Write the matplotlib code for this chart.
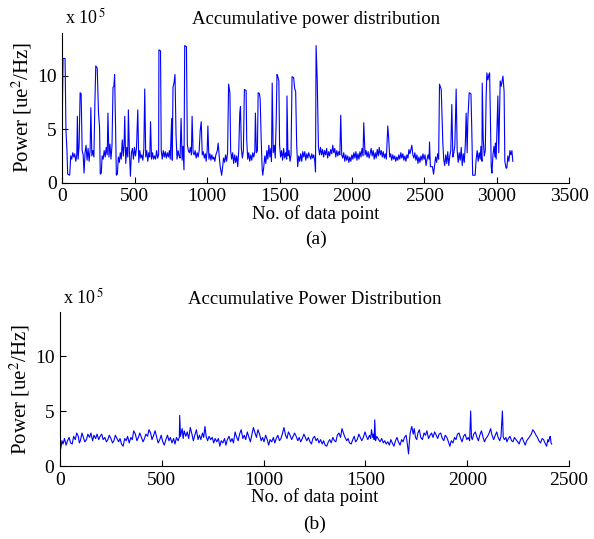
import numpy as np
import matplotlib
matplotlib.use('Agg')
import matplotlib.pyplot as plt

plt.rcParams['font.family'] = ['Liberation Serif', 'DejaVu Serif']
plt.rcParams['mathtext.fontset'] = 'stix'

# (a) raw accumulative power, values in units of 1e5 ue^2/Hz
idx_a = [0, 5, 19, 25, 32, 37, 51, 58, 65, 72, 79, 86, 93, 100, 104, 109, 116, 123, 130, 137,
         144, 150, 157, 164, 171, 178, 185, 192, 197, 204, 211, 218, 225, 231, 241, 250, 257, 262, 269, 275,
         282, 289, 296, 303, 310, 315, 322, 329, 336, 343, 350, 356, 361, 368, 373, 380, 387, 394, 400, 407,
         414, 421, 426, 431, 438, 445, 452, 456, 463, 470, 477, 484, 491, 498, 505, 512, 521, 528, 535, 542,
         549, 556, 563, 569, 576, 583, 590, 597, 604, 609, 616, 623, 630, 637, 644, 651, 658, 665, 667, 678,
         683, 690, 697, 704, 711, 718, 725, 732, 739, 745, 755, 759, 764, 771, 778, 785, 792, 799, 806, 813,
         820, 827, 833, 840, 845, 857, 863, 870, 877, 884, 891, 896, 903, 910, 917, 924, 931, 938, 945, 952,
         959, 966, 973, 980, 987, 993, 1000, 1005, 1012, 1019, 1026, 1032, 1040, 1046, 1053, 1060, 1070, 1076, 1083, 1090,
         1100, 1107, 1113, 1120, 1127, 1134, 1141, 1148, 1157, 1162, 1169, 1176, 1183, 1190, 1197, 1204, 1211, 1218, 1225, 1230,
         1236, 1243, 1250, 1257, 1269, 1273, 1280, 1287, 1294, 1301, 1308, 1315, 1322, 1329, 1333, 1340, 1347, 1352, 1361, 1366,
         1373, 1380, 1384, 1391, 1398, 1405, 1412, 1419, 1426, 1433, 1440, 1444, 1449, 1456, 1463, 1470, 1477, 1482, 1488, 1495,
         1500, 1507, 1514, 1521, 1528, 1535, 1542, 1549, 1551, 1558, 1565, 1572, 1579, 1586, 1597, 1604, 1611, 1618, 1625, 1632,
         1639, 1646, 1653, 1660, 1667, 1674, 1681, 1688, 1695, 1701, 1708, 1715, 1722, 1729, 1736, 1743, 1748, 1752, 1760, 1768,
         1776, 1783, 1790, 1797, 1804, 1811, 1818, 1825, 1832, 1839, 1846, 1853, 1860, 1867, 1874, 1881, 1888, 1895, 1902, 1909,
         1916, 1922, 1929, 1936, 1943, 1950, 1957, 1964, 1971, 1978, 1985, 1992, 1999, 2006, 2013, 2020, 2027, 2034, 2041, 2048,
         2055, 2062, 2069, 2076, 2081, 2090, 2097, 2104, 2111, 2118, 2125, 2132, 2139, 2146, 2153, 2160, 2167, 2174, 2181, 2188,
         2195, 2202, 2209, 2216, 2223, 2230, 2237, 2247, 2253, 2260, 2267, 2274, 2281, 2288, 2295, 2302, 2309, 2316, 2323, 2330,
         2337, 2344, 2351, 2358, 2365, 2372, 2379, 2386, 2393, 2400, 2413, 2420, 2427, 2434, 2441, 2448, 2455, 2462, 2469, 2476,
         2483, 2490, 2497, 2504, 2511, 2518, 2525, 2532, 2535, 2541, 2555, 2563, 2570, 2577, 2584, 2591, 2598, 2604, 2616, 2627,
         2633, 2640, 2647, 2654, 2661, 2668, 2675, 2682, 2689, 2696, 2703, 2710, 2719, 2726, 2733, 2740, 2747, 2754, 2761, 2768,
         2775, 2782, 2788, 2795, 2800, 2809, 2821, 2826, 2833, 2850, 2857, 2864, 2871, 2878, 2885, 2890, 2897, 2899, 2906, 2913,
         2920, 2926, 2931, 2938, 2945, 2950, 2955, 2961, 2966, 2973, 2980, 2987, 2990, 2995, 3007, 3013, 3018, 3023, 3030, 3042,
         3050, 3055, 3064, 3069, 3076, 3083, 3090, 3097, 3104, 3110]
pow_a = [6.0, 11.6, 11.6, 5.0, 3.0, 0.8, 0.7, 2.5, 2.2, 2.8, 2.4, 2.7, 2.0, 2.6, 6.2, 2.2, 3.5, 8.4, 8.3, 3.0,
         2.6, 0.9, 2.8, 3.5, 2.1, 3.2, 2.0, 3.0, 7.0, 2.5, 3.0, 2.4, 7.5, 10.9, 10.7, 6.5, 5.2, 0.8, 0.9, 2.5,
         2.2, 3.0, 2.4, 3.3, 2.6, 6.5, 2.4, 3.6, 2.2, 3.5, 8.9, 9.0, 10.1, 5.0, 0.7, 0.8, 2.4, 1.9, 2.8, 2.2,
         4.0, 2.5, 3.4, 6.2, 1.8, 3.3, 2.4, 6.8, 3.0, 0.6, 2.8, 3.2, 2.2, 3.3, 2.5, 3.2, 6.8, 1.9, 3.0, 2.3,
         2.6, 2.1, 3.2, 8.75, 2.4, 3.0, 2.0, 2.8, 2.4, 5.7, 2.2, 2.8, 2.2, 2.5, 2.2, 3.0, 2.3, 2.6, 12.4, 12.3,
         3.0, 2.2, 3.0, 2.4, 2.9, 2.3, 2.8, 2.4, 3.0, 2.2, 6.0, 2.1, 8.9, 9.3, 10.1, 4.5, 2.2, 3.0, 2.5, 2.3,
         6.0, 2.1, 3.4, 1.2, 12.8, 12.7, 3.6, 3.0, 2.8, 3.3, 2.6, 6.2, 2.8, 2.6, 3.0, 2.3, 2.8, 2.4, 3.0, 4.9,
         5.7, 2.6, 2.9, 2.3, 2.7, 2.0, 3.0, 5.3, 2.2, 2.7, 2.1, 2.6, 2.2, 2.4, 2.0, 2.6, 3.0, 3.7, 2.5, 1.5,
         0.7, 1.5, 2.3, 1.9, 2.6, 2.0, 2.8, 9.2, 8.4, 3.0, 2.2, 2.8, 1.8, 2.6, 1.9, 2.5, 1.5, 3.0, 6.5, 7.1,
         3.2, 2.3, 3.0, 8.7, 8.6, 4.0, 2.2, 2.8, 2.0, 2.6, 2.1, 2.8, 2.4, 2.9, 6.5, 2.8, 3.0, 8.4, 8.3, 7.8,
         4.0, 1.2, 0.7, 1.5, 2.5, 1.8, 3.0, 2.2, 3.5, 2.4, 3.2, 2.0, 9.3, 2.8, 3.5, 2.3, 6.0, 10.1, 9.9, 9.5,
         3.5, 2.4, 3.0, 2.1, 3.2, 2.3, 2.8, 2.2, 8.1, 2.5, 3.0, 2.0, 2.6, 9.9, 9.8, 8.8, 8.5, 3.5, 1.5, 2.5,
         2.0, 2.7, 2.0, 2.9, 2.4, 2.9, 2.1, 2.7, 2.3, 2.8, 2.5, 2.2, 2.7, 2.3, 2.6, 2.0, 1.0, 12.8, 9.5, 3.4,
         2.6, 3.3, 2.6, 3.1, 2.4, 3.0, 2.6, 3.2, 2.3, 2.9, 2.5, 3.1, 2.7, 3.5, 2.8, 3.2, 2.4, 3.0, 2.5, 2.9,
         2.6, 6.3, 2.6, 2.3, 2.8, 2.0, 2.6, 2.1, 2.5, 1.9, 2.4, 2.0, 2.6, 2.2, 2.8, 2.3, 2.9, 2.1, 2.7, 2.2,
         2.9, 2.4, 3.2, 2.5, 5.6, 2.6, 3.0, 2.4, 2.9, 2.3, 2.7, 3.2, 2.5, 3.0, 2.2, 2.8, 2.3, 3.1, 2.5, 3.3,
         2.6, 3.0, 2.4, 2.9, 2.3, 2.7, 2.2, 5.3, 4.2, 2.4, 2.7, 2.1, 2.6, 2.2, 2.5, 2.0, 2.4, 2.1, 2.6, 2.2,
         2.8, 2.3, 2.7, 2.1, 2.5, 2.0, 2.6, 2.3, 3.1, 2.7, 3.5, 2.6, 2.3, 2.8, 2.1, 2.6, 1.8, 2.4, 1.9, 2.5,
         2.1, 2.7, 2.2, 2.6, 1.6, 2.2, 2.6, 2.2, 3.8, 1.5, 1.5, 0.8, 1.6, 2.4, 1.9, 2.7, 2.2, 9.2, 8.7, 3.7,
         2.2, 1.6, 2.6, 1.8, 2.9, 1.6, 2.5, 3.0, 7.3, 2.4, 2.8, 3.5, 8.75, 3.0, 1.9, 2.8, 2.1, 3.3, 1.6, 2.7,
         1.9, 3.5, 6.5, 2.8, 6.0, 8.4, 8.3, 5.5, 0.7, 0.7, 2.2, 3.0, 2.0, 2.8, 2.2, 3.4, 2.0, 9.3, 4.0, 2.5,
         3.0, 8.0, 10.25, 9.6, 10.1, 10.25, 6.0, 1.5, 0.9, 2.6, 3.4, 2.4, 3.7, 2.2, 8.1, 2.8, 6.0, 9.5, 9.0, 9.95,
         8.5, 2.0, 1.35, 1.4, 2.5, 2.0, 3.0, 2.6, 3.0, 2.0]

# (b) accumulative power after processing
idx_b = [0, 4, 10, 15, 22, 30, 37, 45, 52, 60, 67, 75, 82, 90, 95, 100, 108, 115, 122, 130,
         137, 145, 152, 160, 167, 175, 182, 190, 197, 205, 212, 220, 228, 235, 242, 250, 258, 265, 272, 280,
         288, 295, 302, 310, 318, 325, 332, 340, 348, 355, 362, 370, 378, 385, 392, 400, 408, 415, 422, 430,
         437, 445, 452, 460, 467, 475, 482, 490, 497, 505, 512, 520, 528, 535, 542, 550, 558, 565, 572, 580,
         586, 588, 592, 600, 605, 610, 618, 625, 632, 640, 648, 655, 662, 670, 678, 685, 692, 700, 706, 712,
         718, 725, 732, 740, 748, 755, 762, 770, 778, 785, 792, 800, 808, 815, 822, 830, 838, 845, 852, 860,
         868, 875, 882, 890, 898, 905, 912, 920, 928, 935, 942, 950, 958, 965, 972, 980, 988, 995, 1002, 1010,
         1018, 1025, 1032, 1040, 1048, 1055, 1062, 1070, 1078, 1085, 1092, 1100, 1108, 1115, 1122, 1130, 1138, 1145, 1152, 1160,
         1168, 1175, 1182, 1190, 1198, 1205, 1212, 1220, 1228, 1235, 1242, 1250, 1258, 1265, 1272, 1280, 1288, 1295, 1302, 1310,
         1318, 1325, 1332, 1340, 1348, 1355, 1362, 1370, 1378, 1385, 1392, 1400, 1408, 1415, 1422, 1430, 1438, 1445, 1452, 1460,
         1468, 1475, 1482, 1490, 1498, 1505, 1512, 1520, 1526, 1530, 1536, 1540, 1543, 1546, 1550, 1556, 1565, 1572, 1580, 1588,
         1595, 1602, 1610, 1618, 1625, 1632, 1640, 1648, 1655, 1662, 1670, 1678, 1685, 1692, 1700, 1706, 1712, 1716, 1720, 1728,
         1735, 1740, 1746, 1752, 1758, 1765, 1772, 1780, 1788, 1795, 1802, 1810, 1818, 1825, 1832, 1840, 1848, 1855, 1862, 1870,
         1878, 1885, 1892, 1900, 1908, 1915, 1922, 1930, 1938, 1945, 1952, 1960, 1968, 1975, 1982, 1990, 1998, 2005, 2012, 2017,
         2021, 2025, 2032, 2040, 2048, 2055, 2062, 2070, 2078, 2085, 2092, 2100, 2108, 2115, 2122, 2130, 2138, 2145, 2152, 2160,
         2166, 2173, 2177, 2183, 2190, 2195, 2202, 2210, 2218, 2225, 2232, 2240, 2248, 2255, 2262, 2270, 2278, 2285, 2292, 2300,
         2308, 2315, 2322, 2330, 2338, 2345, 2352, 2360, 2368, 2375, 2382, 2390, 2396, 2400, 2405, 2408, 2412, 2415]
pow_b = [3.7, 1.6, 2.3, 2.0, 2.5, 1.9, 2.3, 2.6, 2.1, 2.0, 2.7, 2.4, 3.0, 2.7, 2.1, 2.3, 3.0, 2.6, 2.2, 2.4,
         2.9, 2.6, 3.0, 2.3, 2.8, 2.5, 2.9, 2.4, 2.7, 2.9, 2.4, 2.6, 2.2, 2.4, 2.8, 2.5, 2.1, 2.3, 2.8, 2.5,
         2.2, 2.5, 2.0, 1.8, 2.5, 2.3, 2.7, 2.1, 2.6, 2.4, 3.2, 2.9, 2.3, 2.6, 3.0, 2.6, 2.2, 2.5, 2.9, 2.7,
         3.3, 3.0, 2.4, 2.8, 3.2, 2.6, 2.1, 2.4, 2.8, 2.2, 1.9, 2.4, 2.8, 2.3, 2.6, 2.1, 2.5, 2.0, 2.6, 2.3,
         2.6, 4.6, 2.7, 3.4, 2.5, 3.2, 2.7, 3.1, 2.5, 3.5, 2.9, 2.3, 2.8, 3.3, 2.4, 2.8, 2.4, 3.0, 2.6, 3.6,
         2.7, 2.3, 2.7, 2.4, 2.6, 2.1, 2.5, 2.2, 2.5, 1.8, 2.3, 2.1, 2.5, 1.9, 2.4, 2.7, 2.2, 2.5, 2.1, 3.1,
         2.6, 2.3, 2.9, 3.3, 2.5, 2.8, 2.4, 3.1, 2.6, 2.2, 2.8, 3.5, 3.0, 2.6, 3.3, 2.9, 2.3, 2.6, 2.2, 2.8,
         2.4, 1.9, 2.4, 2.2, 2.6, 2.1, 2.5, 2.8, 2.3, 2.5, 2.9, 3.5, 2.8, 2.5, 3.1, 2.8, 2.4, 2.7, 3.0, 2.7,
         2.3, 2.6, 2.2, 2.5, 2.9, 2.6, 2.3, 2.6, 2.2, 2.0, 2.5, 2.7, 2.3, 2.5, 2.1, 2.4, 2.0, 2.3, 1.9, 1.8,
         2.2, 2.4, 2.1, 2.6, 2.3, 2.2, 2.8, 3.0, 2.6, 3.4, 3.0, 2.6, 2.3, 2.5, 2.1, 2.0, 2.4, 2.7, 2.2, 2.4,
         2.9, 2.6, 2.3, 2.6, 3.1, 2.7, 2.4, 2.8, 2.5, 3.3, 2.6, 2.9, 2.4, 4.2, 2.3, 2.7, 2.4, 2.2, 2.5, 2.1,
         2.3, 2.0, 2.2, 1.9, 2.4, 2.1, 1.8, 2.3, 2.6, 2.2, 1.9, 2.4, 2.2, 2.6, 2.8, 2.0, 1.1, 2.2, 3.0, 3.6,
         2.9, 3.4, 2.6, 2.4, 3.0, 3.3, 2.6, 2.4, 3.0, 2.8, 3.2, 2.5, 2.8, 3.0, 2.6, 3.1, 2.8, 2.5, 2.9, 3.0,
         2.5, 2.3, 2.8, 2.6, 2.2, 1.8, 2.3, 2.1, 2.6, 2.4, 2.9, 3.0, 2.5, 2.2, 2.7, 2.9, 2.4, 2.6, 2.3, 5.0,
         2.6, 2.4, 2.9, 3.1, 2.6, 2.3, 2.8, 3.2, 2.6, 2.2, 2.5, 2.7, 3.0, 3.4, 2.8, 2.4, 2.8, 3.1, 2.6, 2.3,
         2.7, 5.0, 2.6, 2.4, 2.6, 2.2, 2.5, 2.7, 2.3, 2.2, 2.6, 2.4, 2.2, 2.0, 2.4, 2.6, 2.2, 1.9, 2.3, 2.5,
         2.7, 2.9, 3.3, 3.1, 2.8, 2.6, 2.3, 2.1, 2.5, 2.4, 2.1, 1.8, 2.4, 2.2, 2.6, 2.7, 2.1, 2.0]

titles = ['Accumulative power distribution', 'Accumulative Power Distribution']
panel_tags = ['(a)', '(b)']
xmax = [3500, 2500]

fig = plt.figure(figsize=(5.94, 5.39), dpi=100)
ax_a = fig.add_axes([0.1049, 0.661, 0.8535, 0.2783])
ax_b = fig.add_axes([0.1010, 0.1354, 0.8569, 0.2857])

for ax, x, y, title, tag, xm in zip([ax_a, ax_b], [idx_a, idx_b], [pow_a, pow_b],
                                     titles, panel_tags, xmax):
    ax.plot(x, y, color='#0000ff', lw=0.8)
    ax.set_xlim(0, xm)
    ax.set_ylim(0, 14)
    ax.set_xticks(np.arange(0, xm + 1, 500))
    ax.set_yticks([0, 5, 10])
    ax.spines['top'].set_visible(False)
    ax.spines['right'].set_visible(False)
    ax.tick_params(direction='in', length=4, width=0.8, labelsize=14, pad=4)
    ax.set_xlabel('No. of data point', fontsize=13.5, labelpad=0)
    ax.set_ylabel('Power [ue$^2$/Hz]', fontsize=15, labelpad=2)
    ax.set_title(title, fontsize=13.5, pad=6)
    ax.text(0.5, -0.38, tag, transform=ax.transAxes, ha='center', va='center', fontsize=14)

ax_a.text(0.005, 1.03, r'x 10$^{\,5}$', transform=ax_a.transAxes, ha='left', va='bottom', fontsize=13)
ax_b.text(0.005, 1.03, r'x 10$^{\,5}$', transform=ax_b.transAxes, ha='left', va='bottom', fontsize=13)

fig.savefig('out.png', dpi=100)
